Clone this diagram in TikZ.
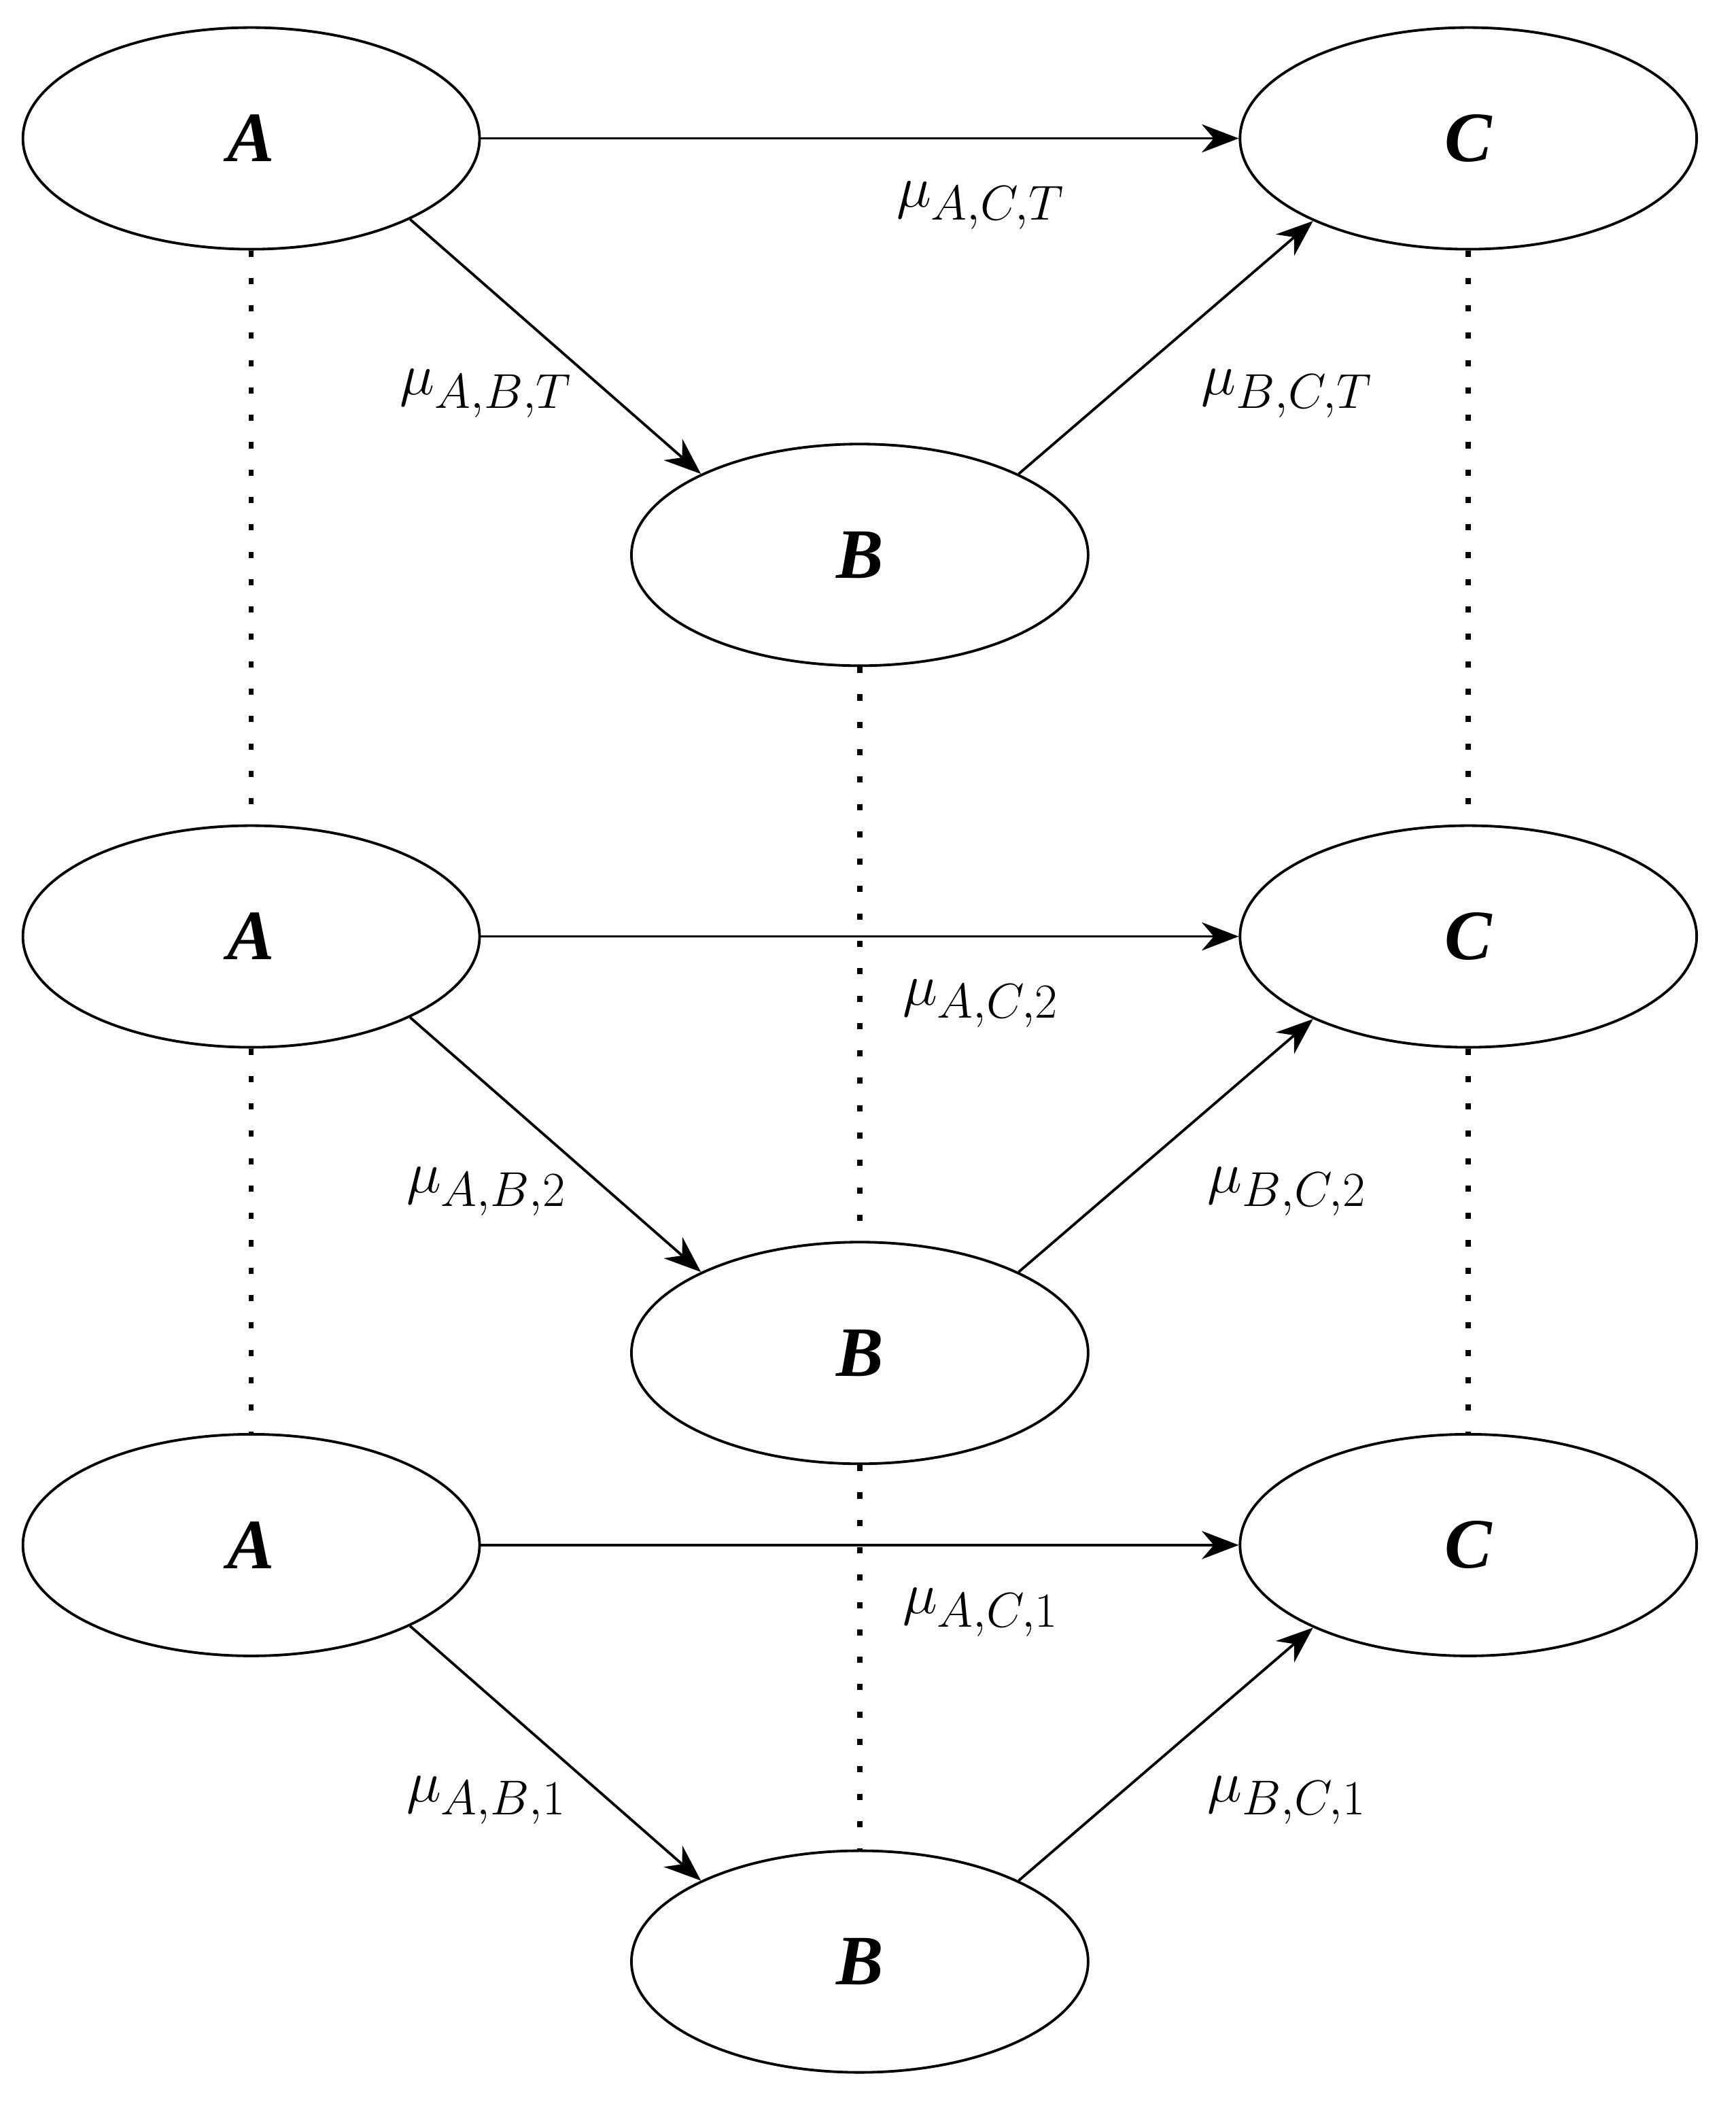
\documentclass[tikz,border=0pt]{standalone}
\usepackage{fontspec}
\setmainfont{Liberation Serif}
\usetikzlibrary{arrows.meta,shapes.geometric,calc}

\begin{document}
\begin{tikzpicture}[x=0.02cm, y=-0.02cm]
{\bfseries\itshape
	\tikzstyle{state} = [ellipse, draw=black, line width=1.1pt, minimum width=6.8cm, minimum height=3.3cm, inner sep=0pt, font=\fontsize{30}{32}\selectfont\bfseries\itshape]
	\tikzstyle{lab} = [font=\fontsize{28}{30}\selectfont\bfseries\itshape]
	\tikzstyle{arrow} = [line width=1.1pt, -{Stealth[length=0.55cm, width=0.42cm]}]
	\tikzstyle{link} = [line width=2.2pt, dash pattern=on 2.6pt off 9pt]
	\useasboundingbox (0,0) rectangle (1292,1569);

	\foreach \y/\s/\n in {103/T/t, 697/2/m, 1150/1/b}{
		\node (A\n) [state] at (187,\y) {A};
		\node (C\n) [state] at (1093,\y) {C};
		\node (B\n) [state] at (640,\y+310) {B};
		\node (lac\n) [lab] at (730,\y+50) {$\mu_{A,C,\s}$};
		\node (lab\n) [lab] at (362,\y+190) {$\mu_{A,B,\s}$};
		\node (lbc\n) [lab] at (958,\y+190) {$\mu_{B,C,\s}$};
		\draw [arrow] (A\n.east) -- (C\n.west);
		\draw [arrow] (A\n.-27) -- (B\n.153);
		\draw [arrow] (B\n.27) -- (C\n.208);
	}
	\draw [link] (At.south) -- (Am.north);
	\draw [link] (Am.south) -- (Ab.north);
	\draw [link] (Ct.south) -- (Cm.north);
	\draw [link] (Cm.south) -- (Cb.north);
	\draw [link] (Bt.south) -- (Bm.north);
	\draw [link] (Bm.south) -- (Bb.north);
	}
\end{tikzpicture}
\end{document}
